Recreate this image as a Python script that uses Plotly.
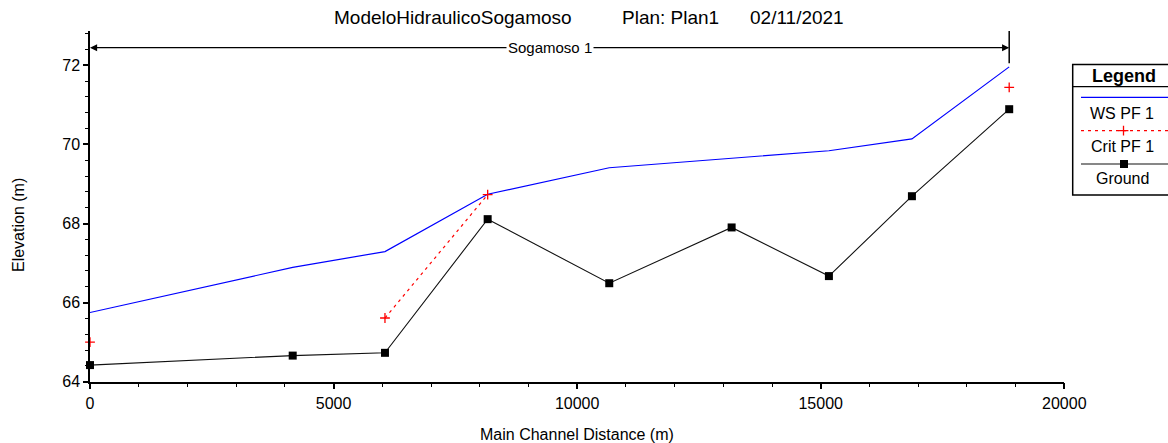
import plotly.graph_objects as go

# Profile data: main channel stations and elevations (m)
stations = [0, 4161, 6055, 8163, 10659, 13171, 15168, 16872, 18869]
ws_pf1 = [65.75, 66.89, 67.29, 68.74, 69.41, 69.66, 69.84, 70.14, 71.96]
crit_pf1 = [65.00, None, 65.61, 68.73, None, None, None, None, 71.44]
ground = [64.42, 64.66, 64.73, 68.11, 66.49, 67.90, 66.67, 68.69, 70.89]

title_parts = ["ModeloHidraulicoSogamoso", "Plan: Plan1", "02/11/2021"]
reach_name = "Sogamoso 1"
legend_names = ["WS PF 1", "Crit PF 1", "Ground"]
x_title = "Main Channel Distance (m)"
y_title = "Elevation (m)"

W, H = 1168, 443
# plot area in pixels
L, R, T, B = 90, 1064.3, 31, 381.7
x_range = [0, 20000]
y_range = [64, 64 + (B - T) / 39.55]

# legend box in pixels
LG_L, LG_T, LG_B = 1072.7, 64.5, 195

FONT = "Liberation Sans, Arial, sans-serif"


def px(xp):
    return xp / W


def py(yp):
    return (H - yp) / H


fig = go.Figure()

fig.add_trace(go.Scatter(x=stations, y=ws_pf1, mode="lines",
                         line=dict(color="#0000FF", width=1.2),
                         name=legend_names[0], showlegend=False))
fig.add_trace(go.Scatter(x=stations, y=crit_pf1, mode="lines+markers",
                         line=dict(color="#FF0000", width=1.2, dash="3px,4px"),
                         marker=dict(symbol="cross-thin", size=7,
                                     line=dict(color="#FF0000", width=1.3)),
                         connectgaps=False, name=legend_names[1],
                         showlegend=False, cliponaxis=False))
fig.add_trace(go.Scatter(x=stations, y=ground, mode="lines+markers",
                         line=dict(color="#111111", width=1.1),
                         marker=dict(symbol="square", size=8, color="black"),
                         name=legend_names[2], showlegend=False,
                         cliponaxis=False))

# Legend samples drawn on a small axis pair inside the legend box
leg_x = [1081, 1168]
leg_rows = [97.3, 130.7, 164.0]
sample_kw = dict(xaxis="x2", yaxis="y2", showlegend=False, hoverinfo="skip",
                 cliponaxis=False)
fig.add_trace(go.Scatter(x=leg_x, y=[leg_rows[0]] * 2, mode="lines",
                         line=dict(color="#0000FF", width=1.2), **sample_kw))
fig.add_trace(go.Scatter(x=leg_x, y=[leg_rows[1]] * 2, mode="lines",
                         line=dict(color="#FF0000", width=1.2, dash="3px,4px"),
                         **sample_kw))
fig.add_trace(go.Scatter(x=[1123.5], y=[leg_rows[1]], mode="markers",
                         marker=dict(symbol="cross-thin", size=7,
                                     line=dict(color="#FF0000", width=1.3)),
                         **sample_kw))
fig.add_trace(go.Scatter(x=leg_x, y=[leg_rows[2]] * 2, mode="lines",
                         line=dict(color="#111111", width=1.1), **sample_kw))
fig.add_trace(go.Scatter(x=[1124], y=[leg_rows[2]], mode="markers",
                         marker=dict(symbol="square", size=8, color="black"),
                         **sample_kw))

shapes = []
annotations = []

# Reach extent bracket
reach_y = 64 + (B - 47.7) / 39.55
reach_mid = (stations[0] + stations[-1]) / 2
for end in (stations[0], stations[-1]):
    annotations.append(dict(x=end, y=reach_y, xref="x", yref="y",
                            ax=reach_mid, ay=0, axref="x", ayref="pixel",
                            showarrow=True, arrowhead=2, arrowsize=1.1,
                            arrowwidth=1.3, arrowcolor="black", text=""))
shapes.append(dict(type="line", xref="x", yref="paper",
                   x0=stations[-1], x1=stations[-1], y0=py(31), y1=py(63.3),
                   line=dict(color="black", width=1.5)))
annotations.append(dict(x=reach_mid, y=reach_y, xref="x", yref="y",
                        text=reach_name, showarrow=False, bgcolor="white",
                        borderpad=1, font=dict(family=FONT, size=15,
                                               color="black")))

# Title pieces
for text, cx in zip(title_parts, [453, 670, 797]):
    annotations.append(dict(x=px(cx), y=py(18), xref="paper", yref="paper",
                            text=text, showarrow=False, xanchor="center",
                            yanchor="middle",
                            font=dict(family=FONT, size=19, color="black")))

# Axis titles
annotations.append(dict(x=px(577), y=py(434), xref="paper", yref="paper",
                        text=x_title, showarrow=False, xanchor="center",
                        yanchor="middle",
                        font=dict(family=FONT, size=16, color="black")))
annotations.append(dict(x=px(18), y=py(225), xref="paper", yref="paper",
                        text=y_title, showarrow=False, textangle=-90,
                        xanchor="center", yanchor="middle",
                        font=dict(family=FONT, size=16, color="black")))

# Legend box
shapes.append(dict(type="rect", xref="paper", yref="paper",
                   x0=px(LG_L), x1=1.02, y0=py(LG_B), y1=py(LG_T),
                   line=dict(color="black", width=1.5)))
shapes.append(dict(type="line", xref="paper", yref="paper",
                   x0=px(LG_L), x1=1.02, y0=py(86.7), y1=py(86.7),
                   line=dict(color="black", width=1.2)))
annotations.append(dict(x=px(1124), y=py(75.5), xref="paper", yref="paper",
                        text="<b>Legend</b>", showarrow=False,
                        xanchor="center", yanchor="middle",
                        font=dict(family=FONT, size=18, color="black")))
for text, yy in zip(legend_names, [113.3, 146.7, 178.3]):
    annotations.append(dict(x=px(1122), y=py(yy), xref="paper", yref="paper",
                            text=text, showarrow=False,
                            xanchor="center", yanchor="middle",
                            font=dict(family=FONT, size=16, color="black")))

fig.update_layout(
    width=W, height=H,
    margin=dict(l=0, r=0, t=0, b=0),
    paper_bgcolor="white", plot_bgcolor="rgba(0,0,0,0)",
    font=dict(family=FONT, size=16, color="black"),
    xaxis=dict(domain=[L / W, R / W], range=x_range, dtick=5000,
               tickformat="d",
               showgrid=False, zeroline=False, showline=True,
               linecolor="black", linewidth=1.5, ticks="outside",
               ticklen=6, tickwidth=1.5, tickcolor="black",
               minor=dict(dtick=1000, ticks="outside", ticklen=4,
                          tickcolor="black", tickwidth=1.2),
               tickfont=dict(family=FONT, size=16),
               automargin=False),
    yaxis=dict(domain=[(H - B) / H, (H - T) / H], range=y_range, dtick=2,
               showgrid=False, zeroline=False, showline=True,
               linecolor="black", linewidth=1.5, ticks="outside",
               ticklen=5, tickwidth=1.5, tickcolor="black",
               minor=dict(dtick=0.4, ticks="outside", ticklen=3,
                          tickcolor="black", tickwidth=1.2),
               tickfont=dict(family=FONT, size=16),
               automargin=False),
    xaxis2=dict(domain=[px(LG_L), 1], range=[LG_L, W], visible=False,
                anchor="y2", fixedrange=True),
    yaxis2=dict(domain=[py(LG_B), py(LG_T)], range=[LG_B, LG_T],
                visible=False, anchor="x2", fixedrange=True),
    shapes=shapes,
    annotations=annotations,
)

fig.write_html("out.html")
